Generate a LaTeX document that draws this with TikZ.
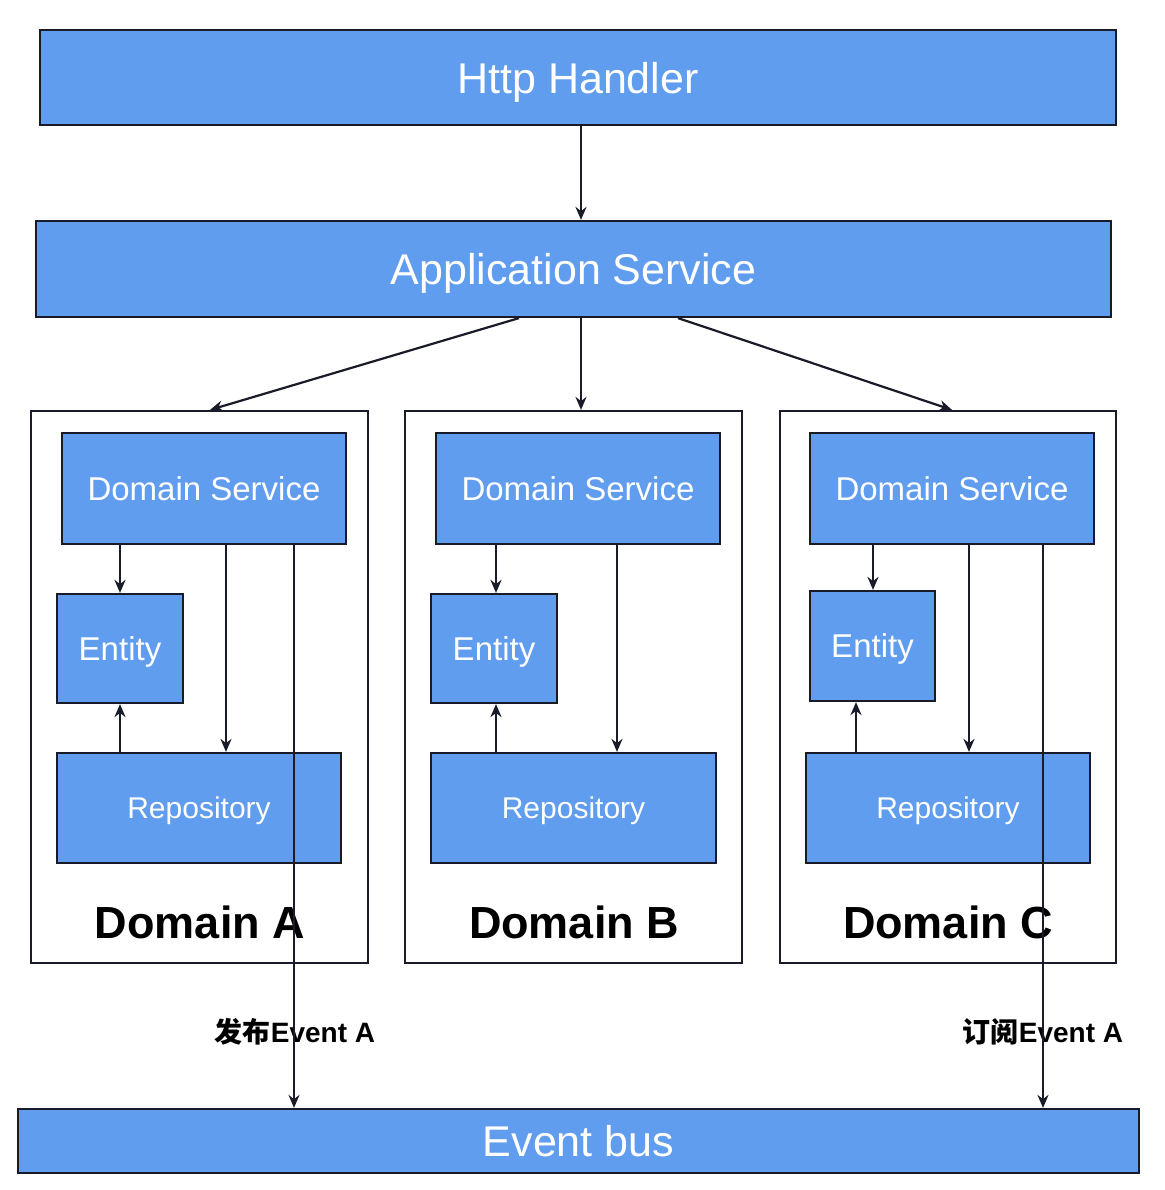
\documentclass[tikz,border=0pt]{standalone}
\usepackage{fontspec}
\setmainfont{Liberation Sans}
\newfontfamily\cjk{Noto Sans CJK SC}
\usetikzlibrary{arrows.meta}
\definecolor{boxblue}{RGB}{96,157,239}
\definecolor{edge}{RGB}{25,28,40}
\begin{document}
\begin{tikzpicture}[x=1pt,y=-1pt,
  bluebox/.style={draw=edge,line width=2.2pt,fill=boxblue,inner sep=0pt,text=white,text depth=0pt},
  domainbox/.style={draw=edge,line width=2.2pt,fill=white,inner sep=0pt},
  bigtxt/.style={font=\fontsize{43}{50}\selectfont},
  midtxt/.style={font=\fontsize{33}{40}\selectfont},
  smalltxt/.style={font=\fontsize{30}{36}\selectfont},
  domlabel/.style={font=\fontsize{45}{52}\selectfont\bfseries,inner sep=0pt},
  evlabel/.style={font=\fontsize{28}{32}\selectfont\bfseries,inner sep=0pt},
  arr/.style={draw=edge,line width=2.2pt,-{Stealth[length=13pt,width=11pt]}}]
\useasboundingbox (0,0) rectangle (1164,1190);
\fill[white] (0,0) rectangle (1164,1190);

% top layers
\node[bluebox,bigtxt,minimum width=1076pt,minimum height=95pt] (http) at (578,77.5) {Http Handler};
\node[bluebox,bigtxt,minimum width=1075pt,minimum height=96pt] (app) at (573.5,269) {Application Service};

% domain containers
\node[domainbox,minimum width=337pt,minimum height=552pt] (domA) at (199.5,687) {};
\node[domainbox,minimum width=337pt,minimum height=552pt] (domB) at (573.5,687) {};
\node[domainbox,minimum width=336pt,minimum height=552pt] (domC) at (948,687) {};

% domain services
\node[bluebox,midtxt,minimum width=284pt,minimum height=111pt] (dsA) at (204,488.5) {Domain Service};
\node[bluebox,midtxt,minimum width=284pt,minimum height=111pt] (dsB) at (578,488.5) {Domain Service};
\node[bluebox,midtxt,minimum width=284pt,minimum height=111pt] (dsC) at (952,488.5) {Domain Service};

% entities
\node[bluebox,midtxt,minimum width=126pt,minimum height=109pt] (entA) at (120,648.5) {Entity};
\node[bluebox,midtxt,minimum width=126pt,minimum height=109pt] (entB) at (494,648.5) {Entity};
\node[bluebox,midtxt,minimum width=125pt,minimum height=110pt] (entC) at (872.5,646) {Entity};

% repositories
\node[bluebox,smalltxt,minimum width=284pt,minimum height=110pt] (repA) at (199,808) {Repository};
\node[bluebox,smalltxt,minimum width=285pt,minimum height=110pt] (repB) at (573.5,808) {Repository};
\node[bluebox,smalltxt,minimum width=284pt,minimum height=110pt] (repC) at (948,808) {Repository};

% domain labels
\node[domlabel] (labA) at (200,922) {Domain A};
\node[domlabel] (labB) at (574,922) {Domain B};
\node[domlabel] (labC) at (948,922) {Domain C};

% event bus
\node[bluebox,bigtxt,minimum width=1121pt,minimum height=64pt] (bus) at (578.5,1141) {Event bus};

% event labels
\node[evlabel] (pub) at (295,1032) {{\cjk\bfseries 发布}Event A};
\node[evlabel] (sub) at (1043,1032) {{\cjk\bfseries 订阅}Event A};

% column coordinates
\coordinate (c581) at (581,0);
\coordinate (c519) at (519,0);
\coordinate (c210) at (210,0);
\coordinate (c678) at (678,0);
\coordinate (c952) at (952,0);
\coordinate (a1) at (120,0);
\coordinate (a2) at (226,0);
\coordinate (a3) at (294,0);
\coordinate (b1) at (496,0);
\coordinate (b2) at (617,0);
\coordinate (k1) at (873,0);
\coordinate (k2) at (856,0);
\coordinate (k3) at (969,0);
\coordinate (k4) at (1043,0);

% connectors
\draw[arr] (http.south -| c581) -- (app.north -| c581);
\draw[arr] (app.south -| c519) -- (domA.north -| c210);
\draw[arr] (app.south -| c581) -- (domB.north -| c581);
\draw[arr] (app.south -| c678) -- (domC.north -| c952);

% domain A
\draw[arr] (dsA.south -| a1) -- (entA.north -| a1);
\draw[arr] (repA.north -| a1) -- (entA.south -| a1);
\draw[arr] (dsA.south -| a2) -- (repA.north -| a2);
\draw[arr] (dsA.south -| a3) -- (bus.north -| a3);

% domain B
\draw[arr] (dsB.south -| b1) -- (entB.north -| b1);
\draw[arr] (repB.north -| b1) -- (entB.south -| b1);
\draw[arr] (dsB.south -| b2) -- (repB.north -| b2);

% domain C
\draw[arr] (dsC.south -| k1) -- (entC.north -| k1);
\draw[arr] (repC.north -| k2) -- (entC.south -| k2);
\draw[arr] (dsC.south -| k3) -- (repC.north -| k3);
\draw[arr] (dsC.south -| k4) -- (bus.north -| k4);
\end{tikzpicture}
\end{document}
